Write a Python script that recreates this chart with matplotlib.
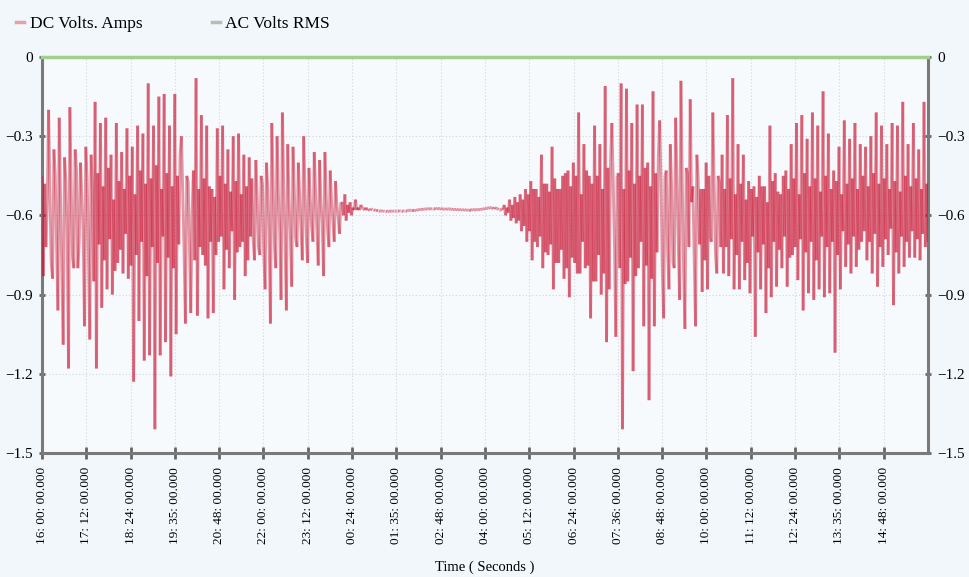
import matplotlib
matplotlib.use("Agg")
import matplotlib.pyplot as plt
from matplotlib.lines import Line2D
from matplotlib.collections import LineCollection
import numpy as np

plt.rcParams['font.family'] = ['Liberation Serif', 'DejaVu Serif']

# time axis: 24 h starting 16:00, in minutes
span_minutes = 1440
time_labels = ["16: 00: 00.000", "17: 12: 00.000", "18: 24: 00.000", "19: 35: 00.000",
               "20: 48: 00.000", "22: 00: 00.000", "23: 12: 00.000", "00: 24: 00.000",
               "01: 35: 00.000", "02: 48: 00.000", "04: 00: 00.000", "05: 12: 00.000",
               "06: 24: 00.000", "07: 36: 00.000", "08: 48: 00.000", "10: 00: 00.000",
               "11: 12: 00.000", "12: 24: 00.000", "13: 35: 00.000", "14: 48: 00.000"]
y_ticks = [0, -0.3, -0.6, -0.9, -1.2, -1.5]

# DC Volts. Amps.
# *_peaks: the tips of the light strokes, *_core: the dense dark band in the middle
evening_peaks = [
    -0.45, -0.83, -0.55, -0.20, -0.84, -0.35, -0.96, -0.23, -1.09, -0.38,
    -1.18, -0.19, -0.80, -0.35, -0.70, -0.40, -1.02, -0.34, -1.07, -0.37,
    -0.17, -1.18, -0.25, -0.95, -0.23, -0.88, -0.37, -0.90, -0.25, -0.78,
    -0.36, -0.82, -0.27, -0.84, -0.34, -1.23, -0.26, -1.00, -0.29, -1.15,
    -0.10, -1.13, -0.26, -1.41, -0.15, -1.13, -0.14, -1.08, -0.26, -1.21,
    -0.14, -1.05, -0.37,
    -0.30, -1.01, -0.45, -0.97, -0.60, -0.08, -0.98, -0.22, -0.75, -0.26,
    -0.99, -0.50, -0.97, -0.27, -0.70, -0.26, -0.88, -0.35, -0.80, -0.30,
    -0.92, -0.29, -0.72, -0.37, -0.83, -0.38, -0.68, -0.77, -0.39, -0.75,
    -0.45, -0.88, -0.40, -1.01, -0.25, -0.80, -0.30, -0.92, -0.21, -0.96,
    -0.33, -0.87, -0.34, -0.72, -0.40, -0.77, -0.30, -0.78, -0.42, -0.70,
    -0.36, -0.79, -0.39, -0.83, -0.36, -0.72, -0.43, -0.70, -0.47, -0.67,
    -0.55,
]
evening_core = [
    -0.48, -0.72, -0.52, -0.78, -0.45, -0.70, -0.55, -0.82, -0.47, -0.68,
    -0.50, -0.76, -0.43, -0.80, -0.53, -0.66, -0.46, -0.74, -0.51, -0.85,
    -0.44, -0.71, -0.49, -0.77, -0.42, -0.69, -0.54, -0.81, -0.47, -0.73,
    -0.50, -0.67, -0.45, -0.79, -0.52, -0.75, -0.43, -0.70, -0.48, -0.83,
    -0.46, -0.72, -0.41, -0.78, -0.50, -0.68, -0.44, -0.76, -0.49, -0.80,
    -0.45, -0.71, -0.52, -0.74, -0.47, -0.69, -0.43, -0.77, -0.50, -0.72,
    -0.46, -0.79, -0.49, -0.70, -0.53, -0.75, -0.45, -0.68, -0.48, -0.73,
    -0.51, -0.66, -0.47, -0.74, -0.52, -0.70, -0.49, -0.77, -0.46, -0.69,
    -0.53, -0.72, -0.48, -0.75, -0.50, -0.68, -0.47, -0.71, -0.52, -0.66,
    -0.49, -0.70, -0.54, -0.67, -0.51, -0.69, -0.53, -0.65, -0.50, -0.68,
    -0.54, -0.64, -0.52, -0.66, -0.55, -0.63, -0.53, -0.65, -0.55, -0.62,
    -0.56, -0.61, -0.55, -0.60,
]
night_peaks = [
    -0.52, -0.62, -0.55, -0.60, -0.54, -0.58, -0.56, -0.57, -0.57, -0.58,
    -0.575, -0.578, -0.580, -0.582, -0.584, -0.583, -0.585, -0.584, -0.583, -0.584,
    -0.583, -0.582, -0.584, -0.583, -0.581, -0.580, -0.582, -0.580, -0.578, -0.577,
    -0.576, -0.575, -0.574, -0.576, -0.573, -0.575, -0.574, -0.576, -0.577, -0.575,
    -0.576, -0.578, -0.577, -0.579, -0.578, -0.580, -0.579, -0.580, -0.578, -0.579,
    -0.578, -0.577, -0.576, -0.574, -0.572, -0.570, -0.575, -0.570, -0.578, -0.578,
]
night_core = [
    -0.56, -0.59, -0.57, -0.58, -0.57, -0.58, -0.575, -0.58, -0.578, -0.58,
    -0.578, -0.580, -0.582, -0.583, -0.584, -0.584, -0.585, -0.584, -0.584, -0.583,
    -0.583, -0.583, -0.583, -0.582, -0.581, -0.581, -0.581, -0.579, -0.578, -0.577,
    -0.576, -0.575, -0.575, -0.575, -0.574, -0.575, -0.575, -0.576, -0.576, -0.575,
    -0.577, -0.578, -0.578, -0.579, -0.579, -0.580, -0.580, -0.579, -0.578, -0.579,
    -0.578, -0.577, -0.575, -0.573, -0.571, -0.572, -0.573, -0.574, -0.576, -0.578,
]
morning_peaks = [
    -0.56, -0.60, -0.54, -0.62, -0.53, -0.63, -0.52, -0.66, -0.50, -0.70,
    -0.47, -0.77, -0.50, -0.72, -0.37, -0.80, -0.48, -0.75, -0.34, -0.88,
    -0.50, -0.78, -0.45, -0.84, -0.43, -0.91, -0.40, -0.78, -0.21, -0.82,
    -0.33, -0.80, -0.45, -0.99, -0.26, -0.85, -0.33, -0.90, -0.11, -1.08,
    -0.40, -0.25, -1.06, -0.45, -0.10, -1.41, -0.12, -0.85, -0.25, -1.19,
    -0.18, -0.80, -0.18, -1.02, -0.40, -1.30, -0.13, -1.02, -0.38, -0.24,
    -0.99, -0.45, -0.88, -0.33, -0.80, -0.23, -0.92, -0.09, -1.03, -0.42,
    -0.16, -0.55, -1.02, -0.37, -0.50, -0.89, -0.40, -0.88, -0.70, -0.21,
    -0.82, -0.45,
]
morning_core = [
    -0.57, -0.59, -0.56, -0.61, -0.55, -0.62, -0.54, -0.64, -0.52, -0.66,
    -0.50, -0.70, -0.53, -0.68, -0.48, -0.74, -0.51, -0.71, -0.46, -0.78,
    -0.50, -0.73, -0.44, -0.80, -0.49, -0.76, -0.45, -0.82, -0.52, -0.70,
    -0.43, -0.79, -0.48, -0.85, -0.45, -0.75, -0.50, -0.82, -0.42, -0.88,
    -0.47, -0.72, -0.44, -0.80, -0.50, -0.86, -0.43, -0.76, -0.48, -0.83,
    -0.45, -0.70, -0.42, -0.79, -0.49, -0.84, -0.44, -0.74, -0.47, -0.81,
    -0.43, -0.73, -0.50, -0.78, -0.45, -0.70, -0.48, -0.80, -0.44, -0.72,
    -0.49, -0.76, -0.46, -0.71, -0.50, -0.77, -0.45, -0.69, -0.48, -0.74,
    -0.47, -0.72,
]
day_peaks = [
    -0.37, -0.82, -0.22, -0.83, -0.08, -0.88, -0.33, -0.88, -0.37, -0.845,
    -0.47, -0.895, -0.49, -1.06, -0.45, -0.88, -0.49, -0.97, -0.26, -0.91,
    -0.44, -0.87, -0.52, -0.80, -0.43, -0.87, -0.33, -0.75, -0.25, -0.845,
    -0.22, -0.96, -0.31, -0.895, -0.21, -0.92, -0.26, -0.88, -0.13, -0.91,
    -0.29, -0.895, -0.43, -1.12, -0.34, -0.88, -0.24, -0.795, -0.31, -0.82,
    -0.25, -0.795, -0.33, -0.70, -0.34, -0.77, -0.30, -0.82, -0.21, -0.87,
    -0.26, -0.795, -0.33, -0.75, -0.25, -0.94, -0.26, -0.82, -0.17, -0.795,
    -0.33, -0.76, -0.25, -0.76, -0.35, -0.77, -0.17, -0.72,
]
day_core = [
    -0.50, -0.72, -0.46, -0.69, -0.52, -0.75, -0.48, -0.70, -0.54, -0.78,
    -0.50, -0.68, -0.53, -0.74, -0.49, -0.71, -0.55, -0.80, -0.47, -0.70,
    -0.51, -0.73, -0.45, -0.68, -0.50, -0.76, -0.46, -0.72, -0.52, -0.69,
    -0.44, -0.74, -0.49, -0.70, -0.46, -0.77, -0.51, -0.68, -0.45, -0.72,
    -0.50, -0.70, -0.47, -0.75, -0.52, -0.66, -0.48, -0.71, -0.46, -0.68,
    -0.50, -0.73, -0.45, -0.66, -0.49, -0.70, -0.44, -0.67, -0.48, -0.72,
    -0.46, -0.69, -0.50, -0.65, -0.47, -0.74, -0.51, -0.68, -0.45, -0.70,
    -0.49, -0.66, -0.46, -0.69, -0.50, -0.67, -0.48, -0.70,
]
# AC Volts RMS stays at zero the whole day
ac_times = [0, 1440]
ac_volts_rms = [0.0, 0.0]


def weave(peaks, core):
    # two peak readings, then two core readings, in time order
    p = np.reshape(peaks, (-1, 2))
    c = np.reshape(core, (-1, 2))
    return np.hstack([p, c]).ravel()


dc_volts_amps = np.concatenate([weave(evening_peaks, evening_core),
                                weave(night_peaks, night_core),
                                weave(morning_peaks, morning_core),
                                weave(day_peaks, day_core)])
dc_times = np.linspace(0, span_minutes, len(dc_volts_amps))

bg = '#f1f7fb'
fig = plt.figure(figsize=(9.69, 5.77), dpi=100, facecolor=bg)
ax = fig.add_axes([0.0433, 0.2149, 0.9144, 0.6863])
ax.set_facecolor('#f6fafd')

# draw the DC trace segment by segment so overlapping strokes build up colour
pts = np.column_stack([dc_times, dc_volts_amps])
segs = np.stack([pts[:-1], pts[1:]], axis=1)
lc = LineCollection(segs, colors='#c8102e', linewidths=2.1, alpha=0.42, zorder=3)
ax.add_collection(lc)
ax.plot(ac_times, ac_volts_rms, color='#a2ce8e', lw=2.5, zorder=4, clip_on=False)

ax.set_xlim(0, span_minutes)
ax.set_ylim(-1.5, 0)
ax.set_xticks(np.arange(len(time_labels)) * 72)
ax.set_xticklabels(time_labels, rotation=90, fontsize=9.5, va='top', ha='center')
ax.set_yticks(y_ticks)
ax.set_yticklabels(["0", "\u22120.3", "\u22120.6", "\u22120.9", "\u22121.2", "\u22121.5"], fontsize=11)

ax.tick_params(axis='y', direction='inout', length=5, width=2, color='#666666',
               left=True, right=True, labelleft=True, labelright=True, pad=4)
ax.tick_params(axis='x', direction='inout', length=8, width=2, color='#666666', pad=6)

ax.grid(True, color='#d2d6da', linestyle=(0, (1, 2)), lw=0.8)
ax.set_axisbelow(True)

for side in ['left', 'right', 'bottom']:
    ax.spines[side].set_color('#7a7a7a')
    ax.spines[side].set_linewidth(2.2)
ax.spines['top'].set_visible(False)

ax.set_xlabel("Time ( Seconds )", fontsize=10.5, labelpad=12)

handles = [Line2D([], [], color='#e6a0aa', lw=2.5),
           Line2D([], [], color='#b6bdb6', lw=2.5)]
fig.legend(handles, ["DC Volts. Amps", "AC Volts RMS"], loc='upper left',
           bbox_to_anchor=(0.0, 1.0), ncol=2, frameon=False, fontsize=12.5,
           handlelength=0.5, handletextpad=0.3, columnspacing=4.0)

fig.savefig("out.png", dpi=100, facecolor=bg)
